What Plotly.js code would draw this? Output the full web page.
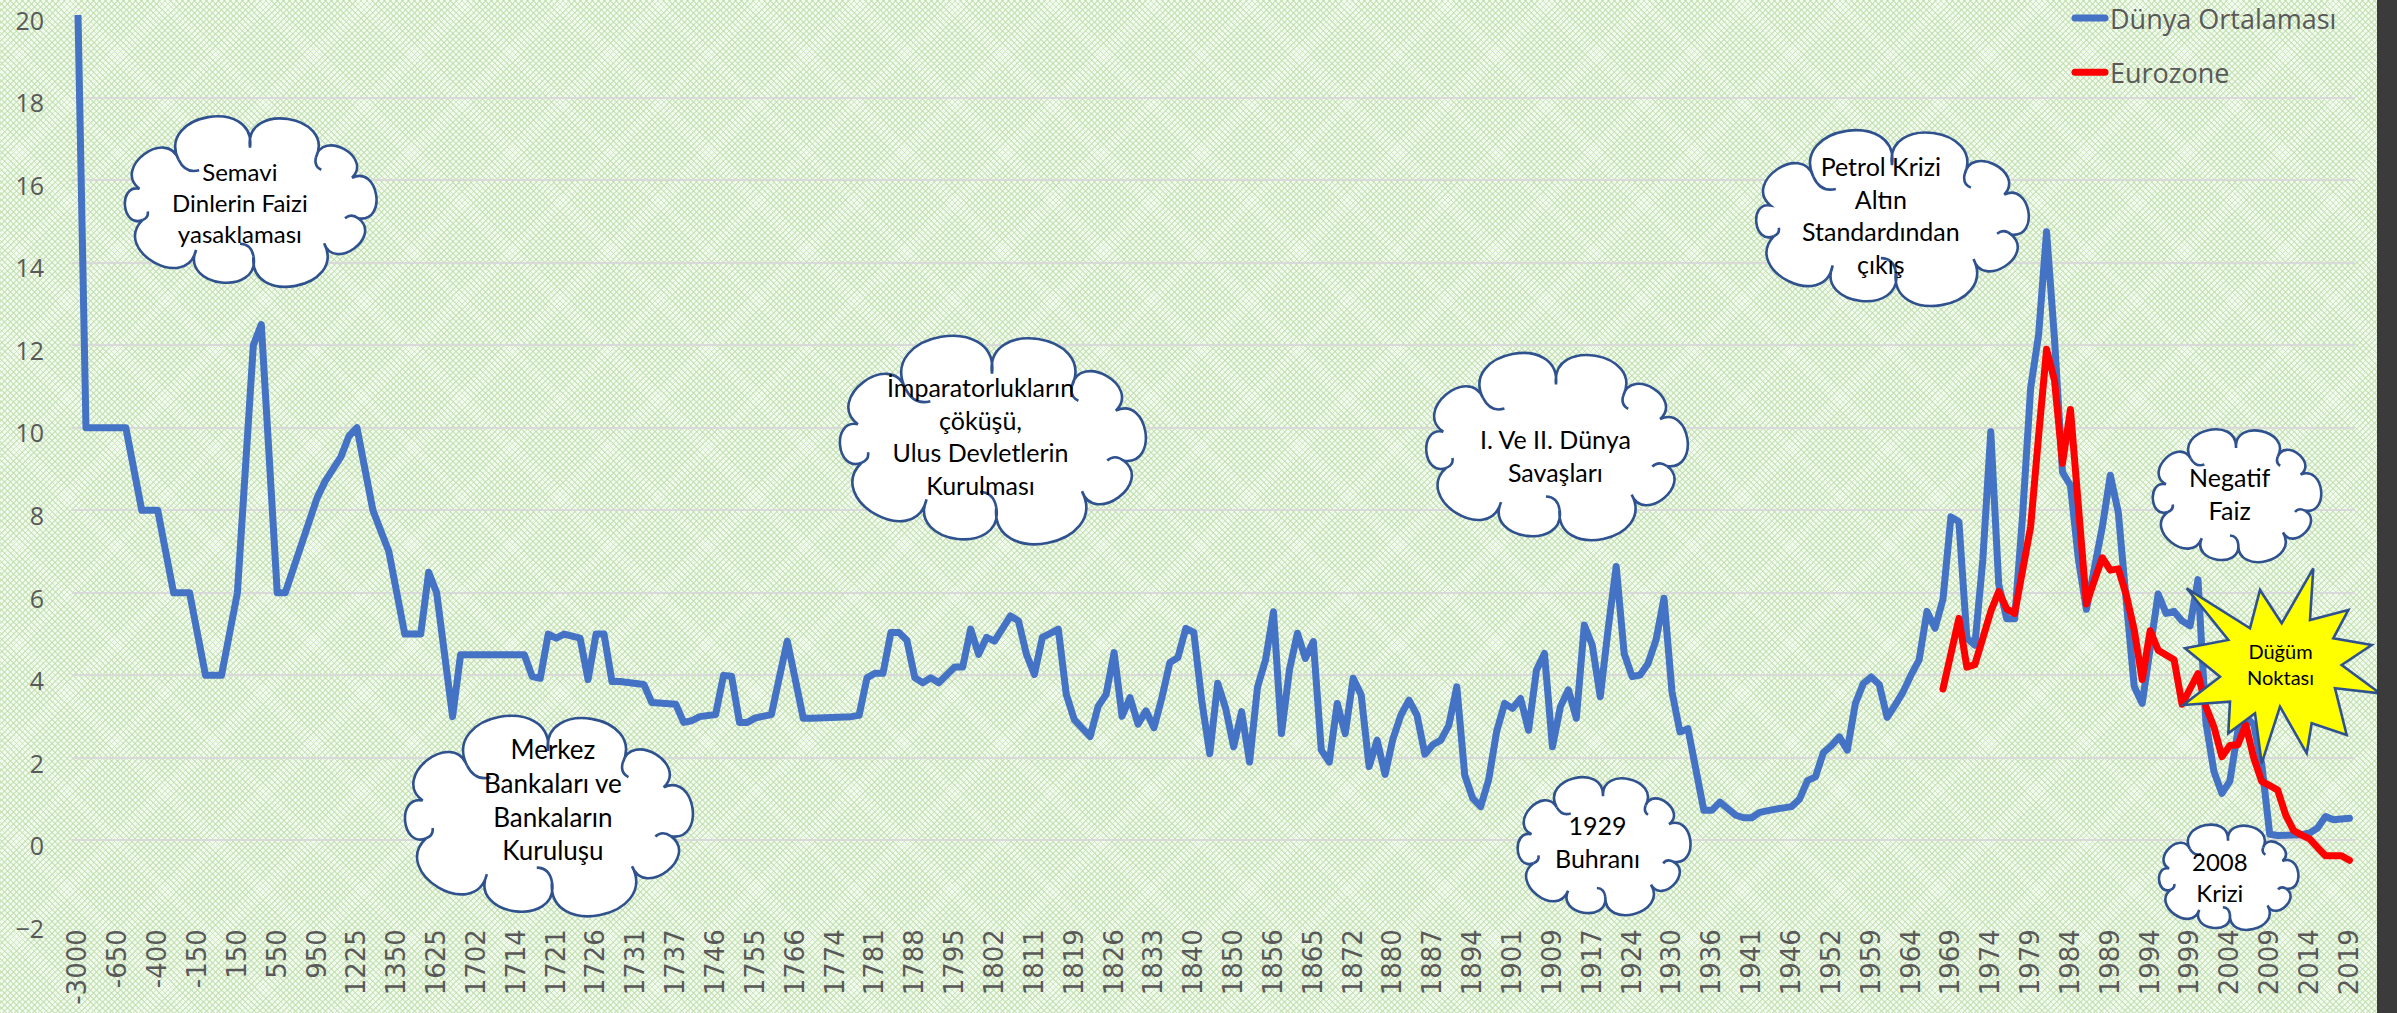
<!DOCTYPE html>
<html>
<head>
<meta charset="utf-8">
<script src="https://cdn.plot.ly/plotly-3.0.1.min.js"></script>
<style>
html,body{margin:0;padding:0;width:2397px;height:1013px;overflow:hidden;}
#wrap{position:relative;width:2397px;height:1013px;
 background-color:#f2f9ee;
 background-image:
  repeating-linear-gradient(45deg, rgba(183,219,160,0.58) 0px, rgba(183,219,160,0.58) 1.3px, rgba(255,255,255,0) 1.3px, rgba(255,255,255,0) 4.2px),
  repeating-linear-gradient(-45deg, rgba(183,219,160,0.58) 0px, rgba(183,219,160,0.58) 1.3px, rgba(255,255,255,0) 1.3px, rgba(255,255,255,0) 4.2px);}
#chart{position:absolute;left:0;top:0;width:2397px;height:1013px;}
#bar{position:absolute;right:0;top:0;width:20px;height:1013px;background:#3b3b3b;}
.js-line{stroke-linejoin:round;stroke-linecap:round;}
</style>
</head>
<body>
<div id="wrap"><div id="chart"></div><div id="bar"></div></div>
<script>
// ---------------- DATA ----------------
const tickLabels = ['-3000','-650','-400','-150','150','550','950','1225','1350','1625',
 '1702','1714','1721','1726','1731','1737','1746','1755','1766','1774',
 '1781','1788','1795','1802','1811','1819','1826','1833','1840','1850',
 '1856','1865','1872','1880','1887','1894','1901','1909','1917','1924',
 '1930','1936','1941','1946','1952','1959','1964','1969','1974','1979',
 '1984','1989','1994','1999','2004','2009','2014','2019'];

// World average interest rate (%), one value per category position
const worldAverage = [
 20,10,10,10,10,10,10,9,8,8,
 8,7,6,6,6,5,4,4,4,5,
 6,9,12,12.5,9.25,6,6,6.6,7.2,7.8,
 8.3,8.7,9.0,9.3,9.8,10.0,9.0,8.0,7.5,7.0,
 6.0,5.0,5.0,5.0,6.5,6.0,4.5,3.0,4.5,4.5,
 4.5,4.5,4.5,4.5,4.5,4.5,4.5,3.97,3.93,5.0,
 4.9,5.0,4.95,4.9,3.9,5.0,5.0,3.85,3.85,3.82,
 3.8,3.78,3.34,3.34,3.32,3.3,2.86,2.9,3.0,3.03,
 3.05,4.0,3.98,2.86,2.86,2.97,3.03,3.05,3.95,4.83,
 3.9,2.96,2.96,2.96,2.97,2.98,2.99,3.0,3.03,3.94,
 4.05,4.05,5.04,5.04,4.85,3.94,3.82,3.94,3.82,4.0,
 4.2,4.2,5.12,4.51,4.92,4.83,5.1,5.44,5.32,4.51,
 4.02,4.92,5.02,5.12,3.54,2.93,2.72,2.52,3.25,3.54,
 4.55,3.01,3.46,2.82,3.14,2.73,3.46,4.31,4.43,5.14,
 5.04,3.38,2.1,3.81,3.2,2.27,3.12,1.9,3.72,4.37,
 5.54,2.59,4.13,5.02,4.41,4.82,2.19,1.9,3.32,2.59,
 3.93,3.53,1.79,2.43,1.6,2.47,3.04,3.4,3.04,2.09,
 2.32,2.43,2.79,3.72,1.58,1.02,0.82,1.47,2.64,3.32,
 3.2,3.44,2.67,4.13,4.53,2.27,3.24,3.65,2.96,5.22,
 4.73,3.48,5.14,6.64,4.53,3.97,4.01,4.29,4.86,5.87,
 3.6,2.63,2.71,1.66,0.73,0.73,0.93,0.77,0.61,0.55,
 0.55,0.68,0.74,0.76,0.79,0.82,1.0,1.45,1.54,2.13,
 2.3,2.51,2.19,3.31,3.8,3.96,3.78,2.98,3.28,3.6,
 4.01,4.37,5.55,5.14,5.84,7.84,7.72,4.9,4.73,6.8,
 9.9,6.2,5.37,5.37,7.9,10.96,12.25,14.75,12.14,8.92,
 8.6,6.8,5.6,6.6,7.6,8.85,7.95,5.8,3.73,3.32,
 4.7,5.97,5.5,5.55,5.32,5.2,6.32,2.85,1.67,1.14,
 1.44,2.65,3.0,2.8,1.85,0.15,0.12,0.12,0.12,0.14,
 0.18,0.3,0.58,0.5,0.52,0.54];

// Eurozone rate (%), last 52 categories (ends with 2019 like the world series)
const eurozone = [
 3.67,4.5,5.38,4.2,4.26,4.9,5.55,6.03,5.61,5.5,
 6.61,7.6,9.8,11.9,11.14,9.14,10.44,8.1,5.73,6.3,
 6.85,6.55,6.58,5.95,5.1,3.9,5.08,4.61,4.5,4.38,
 3.3,3.65,4.04,3.24,2.75,2.03,2.3,2.32,2.8,2.0,
 1.43,1.33,1.22,0.62,0.24,0.13,0.04,-0.17,-0.37,-0.37,
 -0.37,-0.48];

const seriesNames = ['Dünya Ortalaması','Eurozone'];

// ---------------- BUILD ----------------
const W = 2397, H = 1013;
const M = {l:72, r:42, t:15, b:90, autoexpand:false};
const PW = W - M.l - M.r, PH = H - M.t - M.b;
const px2x = X => (X - M.l) / PW;
const px2y = Y => (H - M.b - Y) / PH;

const xWorld = worldAverage.map((_, i) => i);
const euroOffset = worldAverage.length - eurozone.length;
const xEuro = eurozone.map((_, i) => i + euroOffset);
const step = (worldAverage.length - 1) / (tickLabels.length - 1);
const tickVals = tickLabels.map((_, k) => k * step);

const traces = [
 {x:xWorld, y:worldAverage, type:'scatter', mode:'lines', name:seriesNames[0],
  line:{color:'#4472c4', width:7}, legendgroup:'g1', hoverinfo:'y'},
 {x:xEuro, y:eurozone, type:'scatter', mode:'lines', name:seriesNames[1],
  line:{color:'#ff0000', width:7}, legendgroup:'g2', hoverinfo:'y'}
];

function P(pt){ return px2x(pt[0]).toFixed(5) + ',' + px2y(pt[1]).toFixed(5); }

// cloud outline + a few inner arcs (like an office "cloud" shape)
function cloudPaths(b){
 const cx=(b[0]+b[2])/2, cy=(b[1]+b[3])/2;
 const w=b[2]-b[0], h=b[3]-b[1];
 const wts=[1.0,0.8,1.25,0.9,1.1,0.85,1.2,0.95,1.05,1.1];
 const n=wts.length;
 const tot=wts.reduce((a,c)=>a+c,0);
 const rx=w/2*0.76, ry=h/2*0.64;
 const pts=[]; let acc=0;
 for(let k=0;k<n;k++){
   const t=-Math.PI/2 + 2*Math.PI*acc/tot;
   pts.push([cx+rx*Math.cos(t), cy+ry*Math.sin(t)]);
   acc+=wts[k];
 }
 let d='M'+P(pts[0]);
 const inner=[];
 for(let k=0;k<n;k++){
   const A=pts[k], B=pts[(k+1)%n];
   const dx=B[0]-A[0], dy=B[1]-A[1], L=Math.hypot(dx,dy);
   let nx=dy/L, ny=-dx/L;
   const mx=(A[0]+B[0])/2-cx, my=(A[1]+B[1])/2-cy;
   if(nx*mx+ny*my<0){nx=-nx;ny=-ny;}
   const k1=0.68*L, s=0.2*L, ux=dx/L, uy=dy/L;
   const c1=[A[0]+nx*k1-ux*s, A[1]+ny*k1-uy*s];
   const c2=[B[0]+nx*k1+ux*s, B[1]+ny*k1+uy*s];
   d+=' C'+P(c1)+' '+P(c2)+' '+P(B);
   if(k%2===1){
     let vx=A[0]-c1[0], vy=A[1]-c1[1]; const vl=Math.hypot(vx,vy); vx/=vl; vy/=vl;
     const ctrl=[A[0]+vx*0.22*L, A[1]+vy*0.22*L];
     const E=[A[0]+vx*0.2*L+ux*0.2*L, A[1]+vy*0.2*L+uy*0.2*L];
     inner.push('M'+P(A)+' Q'+P(ctrl)+' '+P(E));
   }
 }
 return {outline:d+' Z', inner:inner.join(' ')};
}

const clouds = [
 {box:[100,117,400,287], text:'Semavi<br>Dinlerin Faizi<br>yasaklaması', cx:240, cy:202, size:24},
 {box:[378,714,718,919], text:'Merkez<br>Bankaları ve<br>Bankaların<br>Kuruluşu', cx:553, cy:799, size:26},
 {box:[810,336,1174,545], text:'İmparatorlukların<br>çöküşü,<br>Ulus Devletlerin<br>Kurulması', cx:980, cy:436, size:25},
 {box:[1403,349,1709,545], text:'I. Ve II. Dünya<br>Savaşları', cx:1555, cy:455, size:25},
 {box:[1506,768,1700,925], text:'1929<br>Buhranı', cx:1597, cy:841, size:25},
 {box:[1727,135,2057,302], text:'Petrol Krizi<br>Altın<br>Standardından<br>çıkış', cx:1881, cy:215, size:25},
 {box:[2141,421,2331,571], text:'Negatif<br>Faiz', cx:2230, cy:493, size:25},
 {box:[2148,820,2308,935], text:'2008<br>Krizi', cx:2220, cy:877, size:24}
];

const starPts = [[2313.3,568.3],[2310,620],[2348.3,610],[2333.3,638.3],[2371.7,645],[2341.7,665],
 [2380,693.3],[2335,688.3],[2346.7,735],[2311.7,723.3],[2306.7,753.3],[2280,706.7],
 [2261.7,763.3],[2255,713.3],[2228.3,733.3],[2230,701.7],[2183.3,705],[2220,676.7],
 [2185,648.3],[2228.3,640],[2186.7,588.3],[2250,628.3],[2260,590],[2281.7,623.3]];
const starPath = 'M' + starPts.map(P).join(' L') + ' Z';

const shapes = [];
clouds.forEach(c => {
  const cp = cloudPaths(c.box);
  shapes.push({type:'path', xref:'paper', yref:'paper', path:cp.outline,
    fillcolor:'#ffffff', line:{color:'#2f528f', width:2.6}, layer:'above'});
  shapes.push({type:'path', xref:'paper', yref:'paper', path:cp.inner,
    fillcolor:'rgba(0,0,0,0)', line:{color:'#2f528f', width:2.6}, layer:'above'});
});
shapes.push({type:'path', xref:'paper', yref:'paper', path:starPath,
  fillcolor:'#ffff00', line:{color:'#2f528f', width:2.6}, layer:'above'});

const annotations = clouds.map(c => ({xref:'paper', yref:'paper', x:px2x(c.cx), y:px2y(c.cy),
  text:c.text, showarrow:false, xanchor:'center', yanchor:'middle', align:'center',
  font:{family:'Lato, Open Sans, sans-serif', size:c.size, color:'#000000'}}));
annotations.push({xref:'paper', yref:'paper', x:px2x(2280), y:px2y(664), text:'Düğüm<br>Noktası',
  showarrow:false, xanchor:'center', yanchor:'middle', align:'center',
  font:{family:'Lato, Open Sans, sans-serif', size:20, color:'#000000'}});

const layout = {
 width:W, height:H, margin:M,
 paper_bgcolor:'rgba(0,0,0,0)', plot_bgcolor:'rgba(0,0,0,0)',
 xaxis:{range:[-0.753, 285.7], tickmode:'array', tickvals:tickVals, ticktext:tickLabels,
   tickangle:-90, tickfont:{family:'DejaVu Sans', size:26, color:'#595959'},
   showgrid:false, zeroline:false, showline:false, ticks:'', ticklabelstandoff:0,
   automargin:false, ticklabeloverflow:'allow'},
 yaxis:{range:[-2,20], tick0:0, dtick:2, tickfont:{family:'Open Sans', size:25, color:'#595959'},
   gridcolor:'#d9d9d9', gridwidth:2, zeroline:false, showline:false, ticks:'', ticklabelstandoff:27,
   ticklabelshift:6, automargin:false, ticklabeloverflow:'allow'},
 showlegend:true,
 legend:{x:px2x(2070), xanchor:'left', y:px2y(-6), yanchor:'top', bgcolor:'rgba(0,0,0,0)',
   font:{family:'Open Sans', size:27, color:'#595959'}, tracegroupgap:16},
 shapes:shapes, annotations:annotations
};

Plotly.newPlot('chart', traces, layout, {displayModeBar:false, staticPlot:true});
</script>
</body>
</html>
